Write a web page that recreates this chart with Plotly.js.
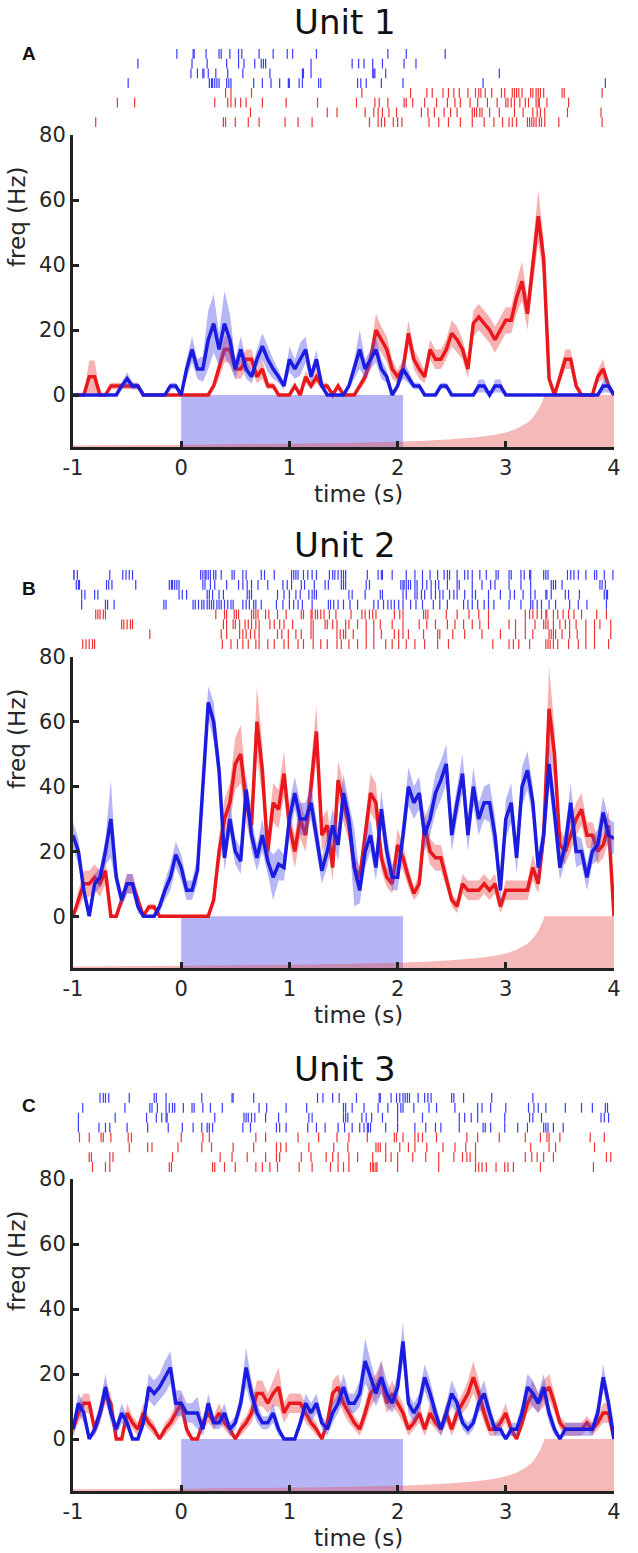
<!DOCTYPE html>
<html>
<head>
<meta charset="utf-8">
<script src="https://cdn.plot.ly/plotly-3.0.1.min.js"></script>
<style>
  body { margin: 0; background: #fff; }
  #plot { width: 638px; height: 1553px; }
</style>
</head>
<body>
<div id="plot"></div>
<script>
// time bins: -1 s to 4 s, 50 ms apart
var binStart = -1, binWidth = 0.05, nBins = 101;

// stimulus window (blue bar) and the pink fill curve under the axis
var stimOn = 0, stimOff = 2.05;
var hazT = [-1, 0, 1, 1.5, 2, 2.25, 2.5, 2.75, 2.9, 3.0, 3.1, 3.2, 3.25, 3.3, 3.33, 3.36, 4];
var hazY = [-15.5, -15.3, -15.0, -14.8, -14.4, -14.1, -13.6, -12.9, -12.2, -11.5, -10.4, -8.5, -6.9, -4.5, -2.5, 0, 0];

// Unit 1 firing rate (Hz) and sem
var p1Red = [0,0,0,5.6,5.6,0,0,2.8,2.8,2.8, 2.8,2.8,2.8,0,0,0,0,0,0,0, 0,0,0,0,0,0,2.8,8,14,14,
  8,8,11,11,5.6,8,2.8,2.8,0,0, 0,2.8,0,5.6,2.8,5.6,2.8,2.8,0,2.8, 0,0,0,2.8,5.6,11,20,17,14,8,
  5.6,8,19,11,8,5.6,14,11,11,14, 19,17,14,8,22,24,22,20,17,20, 23,23,30,35,25,40,55,42,5,0,
  5.6,11,11,2.8,0,0,0,5.6,8,2.8, 0];
var p1RedSem = [0,0,0,5,5,0,0,1,1,1, 1,1,1,0,0,0,0,0,0,0, 0,0,0,0,0,0,1,3,4,4,
  3,3,3,3,2,3,1,1,0,0, 0,1,0,2,1,2,1,1,0,1, 0,0,0,1,2,3,5,4,4,3,
  2,3,4,3,3,2,3,3,3,3, 4,4,3,3,4,4,4,4,4,4, 4,4,5,6,5,6,8,6,2,0,
  2,3,3,1,0,0,0,2,3,1, 0];
var p1Blue = [0,0,0,0,0,0,0,0,0,2.8, 5,2.8,2.8,0,0,0,0,0,2.8,2.8, 0,8,14,8,8,17,22,14,22,17,
  8,14,8,5.6,11,15,11,8,5.6,2.8, 11,8,11,14,5.6,11,2.8,0,0,0, 0,2.8,8,14,8,11,14,8,5.6,0,
  2.8,8,5.6,2.8,2.8,0,0,0,2.8,2.8, 0,0,0,0,0,2.8,2.8,0,2.8,2.8, 0,0,0,0,0,0,0,0,0,0,
  0,0,0,0,0,0,0,0,2.8,2.8, 0];
var p1BlueSem = [0,0,0,0,0,0,0,0,0,1, 2,1,1,0,0,0,0,0,1,1, 0,3,4,3,4,9,9,5,10,8,
  3,4,3,2,3,4,4,3,2,1, 4,3,5,4,2,3,1,0,0,0, 0,1,3,6,3,3,4,3,2,0,
  1,3,2,1,1,0,0,0,1,1, 0,0,0,0,0,2,2,0,2,2, 0,0,0,0,0,0,0,0,0,0,
  0,0,0,0,0,0,0,0,2,2, 0];

// Unit 2
var p2Red = [0,5,10,10,12,10,14,0,0,5, 10,10,5,0,2.8,2.8,0,0,0,0, 0,0,0,0,0,0,5,20,30,35,
  47,50,35,28,60,45,20,35,33,44, 28,20,30,25,40,57,25,28,15,42, 35,28,15,12,25,38,35,18,12,10,
  22,18,12,7,10,28,20,18,18,12, 5,3,10,8,8,8,10,8,10,3, 8,8,8,8,8,15,10,25,64,50,
  22,20,25,30,33,25,25,20,22,28, 0];
var p2RedSem = [0,3,4,4,4,4,4,0,0,2, 3,3,2,0,1,1,0,0,0,0, 0,0,0,0,0,0,2,5,6,6,
  8,9,6,6,11,8,5,6,6,7, 5,5,6,5,7,8,5,5,4,6, 6,5,4,3,5,6,6,4,3,3,
  5,4,3,2,3,5,4,4,4,3, 2,2,3,3,3,3,3,3,3,2, 3,3,3,3,3,4,3,5,13,8,
  5,4,5,5,5,4,4,4,4,5, 0];
var p2Blue = [25,20,8,0,10,12,20,30,12,5, 10,10,3,0,0,0,3,8,12,19, 15,8,8,14,40,66,60,45,18,30,
  20,17,39,25,18,25,17,12,16,15, 30,38,30,30,35,25,14,20,28,22, 38,30,15,8,20,25,15,33,20,12,
  12,25,40,35,38,25,30,38,42,47, 25,35,44,25,40,30,35,35,25,8, 30,35,18,40,45,35,15,25,47,32,
  15,22,35,20,20,12,20,22,32,25, 24];
var p2BlueSem = [4,4,3,0,3,3,4,12,3,2, 3,3,2,0,0,0,2,3,4,4, 4,3,3,4,6,5,6,5,4,5,
  4,4,5,5,4,5,4,7,5,4, 5,5,5,5,5,5,4,5,5,5, 6,5,12,4,5,5,4,6,5,4,
  4,5,6,5,5,5,5,6,6,6, 5,5,6,5,6,5,5,6,6,4, 6,6,5,6,6,5,4,5,7,6,
  4,5,6,5,4,4,4,5,5,5, 5];

// Unit 3
var p3Red = [3,8,11,11,3,8,14,11,0,0, 8,5,3,8,5,3,0,3,5,8, 11,3,0,0,5,8,5,8,5,3,
  0,3,5,8,14,14,11,14,16,8, 11,11,11,8,5,3,0,5,14,16, 11,8,5,3,8,14,16,19,11,14,
  11,8,3,5,8,3,8,5,3,8, 3,8,11,14,19,14,8,3,3,5, 8,3,0,5,11,14,11,14,16,11,
  5,3,3,3,3,5,3,5,8,8, 0];
var p3RedSem = [2,3,3,3,2,3,3,3,0,0, 3,2,2,3,2,2,0,2,2,3, 3,2,0,0,2,3,2,3,2,2,
  0,2,2,3,4,4,3,4,6,3, 3,3,3,3,2,2,0,2,4,4, 3,3,2,2,3,4,4,5,3,4,
  3,3,2,2,3,2,3,2,2,3, 2,3,3,4,5,4,3,2,2,2, 3,2,0,2,3,4,3,4,4,3,
  2,2,2,2,2,2,2,2,3,3, 0];
var p3Blue = [3,11,8,0,3,8,16,8,3,8, 5,0,0,5,16,14,16,19,22,11, 11,8,8,8,3,11,5,5,8,3,
  5,11,22,14,8,5,5,8,3,0, 0,0,5,11,8,11,5,3,8,11, 16,11,11,14,24,19,14,19,14,11,
  16,30,11,8,11,19,14,8,3,8, 14,11,5,3,5,11,14,8,3,3, 0,3,3,8,16,14,11,16,8,3,
  0,3,3,3,3,3,3,8,19,11, 0];
var p3BlueSem = [2,3,3,0,2,3,4,3,2,3, 2,0,0,2,4,4,4,5,5,4, 4,3,3,5,2,3,2,2,3,2,
  2,3,6,4,3,2,2,3,2,0, 0,0,2,3,3,3,2,2,3,3, 4,3,3,4,7,5,4,5,4,3,
  4,6,3,3,3,4,4,3,2,3, 4,3,2,2,2,3,4,3,2,2, 0,2,2,3,4,4,3,4,3,2,
  0,2,2,2,2,2,2,3,4,3, 0];

// spike rasters (s), rows top to bottom: 4 blue trials, then 4 red trials
var p1BlueSpikes = [
  [-0.04,0.11,0.12,0.23,0.35,0.37,0.45,0.53,0.56,0.72,0.85,0.98,1.03,1.25,1.91,2.08,2.44],
  [-0.40,0.10,0.24,0.42,0.53,0.58,0.68,0.74,0.76,0.78,1.20,1.58,1.64,1.69,1.77,1.86,2.06,2.17],
  [0.09,0.15,0.20,0.21,0.25,0.32,0.43,0.57,0.82,1.12,1.13,1.20,1.77,1.78,1.79,1.89,2.94],
  [-0.49,0.26,0.28,0.29,0.31,0.33,0.35,0.42,0.44,0.46,0.67,0.75,0.83,0.91,0.99,1.00,1.09,1.12,1.27,1.29,1.63,1.66,1.71,1.85,2.05,2.79,3.92]
];
var p1RedSpikes = [
  [0.41,0.46,0.65,1.67,2.12,2.27,2.32,2.42,2.47,2.52,2.57,2.65,2.72,2.75,2.77,2.81,2.87,2.96,2.99,3.06,3.08,3.10,3.12,3.15,3.23,3.25,3.28,3.30,3.32,3.35,3.52,3.54,3.89],
  [-0.59,-0.43,0.31,0.43,0.46,0.50,0.55,0.60,0.75,0.97,1.26,1.62,1.79,1.83,1.91,2.06,2.08,2.14,2.25,2.36,2.46,2.53,2.58,2.67,2.74,2.83,2.92,3.00,3.02,3.05,3.08,3.13,3.18,3.21,3.28,3.30,3.31,3.38,3.58],
  [0.64,1.35,1.44,1.70,1.78,1.82,1.86,1.92,1.99,2.22,2.28,2.34,2.43,2.49,2.55,2.69,2.71,2.73,2.76,2.78,2.85,2.94,3.08,3.16,3.25,3.29,3.32,3.36,3.57,3.88],
  [-0.79,0.39,0.41,0.50,0.62,0.72,0.96,1.08,1.21,1.74,1.82,1.85,1.88,1.96,2.00,2.04,2.29,2.38,2.47,2.58,2.69,2.80,2.89,2.97,3.03,3.06,3.10,3.20,3.22,3.24,3.26,3.28,3.31,3.33,3.36,3.49,3.89]
];
var p2BlueSpikes = [
  [-1.00,-0.99,-0.96,-0.66,-0.54,-0.51,-0.48,-0.45,0.18,0.20,0.22,0.23,0.25,0.27,0.30,0.32,0.37,0.47,0.49,0.57,0.60,0.74,0.77,0.86,1.02,1.04,1.06,1.08,1.13,1.17,1.21,1.25,1.37,1.40,1.42,1.45,1.48,1.50,1.52,1.72,1.82,1.85,1.86,1.95,2.08,2.16,2.23,2.30,2.37,2.43,2.46,2.48,2.55,2.62,2.65,2.69,2.76,2.82,2.91,2.93,3.03,3.05,3.14,3.17,3.22,3.23,3.35,3.37,3.39,3.57,3.60,3.63,3.67,3.74,3.82,3.84,3.91,3.99],
  [-0.97,-0.95,-0.94,-0.69,-0.67,-0.64,-0.42,-0.11,-0.09,-0.08,-0.06,-0.04,-0.02,0.20,0.22,0.27,0.31,0.42,0.53,0.57,0.61,0.65,0.71,0.80,0.94,0.98,1.02,1.11,1.14,1.23,1.33,1.36,1.48,1.50,1.52,1.71,1.74,2.03,2.05,2.06,2.08,2.10,2.12,2.16,2.18,2.23,2.27,2.31,2.35,2.38,2.46,2.55,2.57,2.69,2.78,2.86,2.90,3.03,3.14,3.23,3.42,3.44,3.46,3.52,3.87,3.89,3.92],
  [-0.92,-0.89,-0.80,-0.77,-0.02,0.01,0.05,0.24,0.26,0.29,0.35,0.39,0.61,0.63,0.65,0.89,0.95,1.00,1.06,1.10,1.18,1.21,1.23,1.25,1.55,1.58,1.70,1.84,1.86,2.05,2.08,2.16,2.18,2.22,2.25,2.31,2.35,2.39,2.42,2.48,2.52,2.55,2.62,2.69,2.72,2.84,2.95,3.04,3.08,3.16,3.23,3.27,3.37,3.38,3.42,3.55,3.58,3.68,3.91,3.93,3.94],
  [-0.92,-0.70,-0.68,-0.62,-0.16,-0.14,0.11,0.13,0.16,0.19,0.21,0.24,0.26,0.28,0.30,0.33,0.35,0.37,0.40,0.43,0.46,0.48,0.57,0.60,0.63,0.67,0.69,0.74,0.88,0.94,1.00,1.04,1.08,1.12,1.21,1.36,1.38,1.41,1.45,1.50,1.56,1.63,1.78,1.82,1.87,1.91,1.94,1.97,2.01,2.05,2.12,2.17,2.23,2.33,2.39,2.46,2.61,2.65,2.69,2.74,2.80,2.84,2.89,3.03,3.14,3.23,3.25,3.29,3.33,3.40,3.46,3.59,3.67,3.75,3.93]
];
var p2RedSpikes = [
  [-0.79,-0.77,-0.75,-0.72,-0.70,0.32,0.40,0.42,0.49,0.51,0.53,0.65,0.67,0.69,0.71,0.78,0.81,0.89,0.97,1.11,1.13,1.20,1.21,1.24,1.26,1.29,1.32,1.37,1.43,1.57,1.67,1.70,1.74,1.77,1.80,1.97,2.02,2.05,2.24,2.26,2.28,2.45,2.55,2.66,2.75,2.84,3.18,3.22,3.25,3.29,3.33,3.37,3.38,3.44,3.48,3.53,3.58,3.63,3.70,3.84,3.93],
  [-0.55,-0.53,-0.50,-0.47,-0.45,0.39,0.42,0.48,0.50,0.54,0.59,0.62,0.65,0.69,0.72,0.82,0.86,0.91,0.95,1.03,1.20,1.22,1.33,1.35,1.40,1.44,1.52,1.55,1.63,1.71,1.78,1.84,1.95,2.05,2.20,2.27,2.35,2.46,2.53,2.61,2.69,2.76,2.84,3.03,3.09,3.18,3.27,3.35,3.37,3.39,3.44,3.50,3.55,3.59,3.65,3.74,3.82,3.87,3.97],
  [-0.29,0.37,0.42,0.54,0.57,0.60,0.64,0.68,0.72,0.89,0.93,0.99,1.06,1.11,1.20,1.22,1.44,1.47,1.50,1.52,1.59,1.71,1.78,1.85,1.97,2.01,2.05,2.10,2.24,2.37,2.39,2.51,2.62,2.78,2.95,3.09,3.18,3.25,3.40,3.42,3.44,3.46,3.52,3.59,3.66,3.74,3.82,3.97],
  [-0.91,-0.88,-0.85,-0.82,-0.80,0.38,0.46,0.52,0.57,0.62,0.69,0.72,0.80,0.86,0.95,0.99,1.08,1.13,1.22,1.29,1.35,1.44,1.48,1.55,1.63,1.71,1.78,1.89,1.95,2.01,2.08,2.16,2.25,2.37,2.47,2.88,3.03,3.07,3.12,3.22,3.37,3.39,3.41,3.44,3.48,3.58,3.67,3.74,3.82,3.95]
];
var p3BlueSpikes = [
  [-0.75,-0.72,-0.70,-0.67,-0.48,-0.25,-0.23,-0.14,0.19,0.47,0.48,0.67,1.26,1.31,1.40,1.46,1.62,1.83,1.84,1.94,1.99,2.02,2.05,2.07,2.09,2.11,2.19,2.25,2.28,2.31,2.50,2.52,2.61,2.87,3.25],
  [-0.91,-0.52,-0.29,-0.27,-0.22,-0.14,-0.11,-0.08,-0.06,0.02,0.10,0.12,0.20,0.27,0.38,0.72,0.79,0.97,1.16,1.50,1.52,1.58,1.69,1.82,1.91,2.00,2.03,2.05,2.15,2.29,2.36,2.53,2.74,2.78,2.86,3.00,3.21,3.26,3.30,3.37,3.55,3.70,3.80,3.92,3.94],
  [-0.95,-0.61,-0.32,-0.23,-0.18,-0.14,-0.13,0.31,0.58,0.60,0.62,0.65,0.68,0.78,0.90,1.18,1.21,1.50,1.52,1.54,1.67,1.71,1.76,1.86,2.00,2.23,2.57,2.62,2.68,2.74,2.99,3.22,3.25,3.33,3.88,3.91,3.95],
  [-0.95,-0.76,-0.70,-0.66,-0.50,-0.31,-0.12,0.01,0.11,0.19,0.24,0.26,0.29,0.57,0.64,0.88,0.91,0.97,1.17,1.25,1.33,1.45,1.51,1.58,1.65,1.69,1.72,1.73,1.75,1.89,2.00,2.16,2.26,2.35,2.40,2.57,2.79,2.81,2.86,2.99,3.11,3.20,3.35,3.37,3.39,3.44,3.53]
];
var p3RedSpikes = [
  [-0.94,-0.85,-0.74,-0.72,-0.65,-0.49,-0.46,0.00,0.20,0.26,0.69,0.78,1.08,1.27,1.44,1.55,1.72,1.97,1.99,2.05,2.16,2.19,2.23,2.36,2.64,2.74,2.94,3.18,3.32,3.38,3.40,3.50,3.78,3.91],
  [-0.48,-0.31,-0.27,-0.03,0.19,0.28,0.48,0.67,0.88,0.92,0.97,1.18,1.41,1.54,1.80,1.82,1.84,1.89,2.02,2.10,2.16,2.27,2.42,2.53,2.63,2.72,3.23,3.40,3.46,3.82],
  [-0.85,-0.83,-0.66,-0.63,-0.08,0.36,0.47,0.61,0.78,0.88,0.91,1.11,1.20,1.34,1.40,1.45,1.55,1.63,1.77,1.89,1.94,2.00,2.14,2.26,2.38,2.52,2.60,2.64,2.67,2.72,3.18,3.24,3.29,3.35,3.44,3.93,3.97],
  [-0.82,-0.70,-0.66,-0.11,-0.09,0.29,0.31,0.40,0.50,0.69,0.75,0.82,0.89,1.09,1.21,1.38,1.45,1.50,1.55,1.75,1.77,1.78,1.80,1.81,2.00,2.38,2.72,2.75,2.78,2.82,2.91,2.99,3.02,3.07,3.32,3.81]
];

// page geometry in pixels (638 x 1553)
var W = 638, H = 1553;
var yMin = -16, yMax = 80;
var RED = "#e8181c", BLUE = "#1c1ce0";
var FONT = "DejaVu Sans, Verdana, sans-serif";
var TICK_SIZE = 21, LABEL_SIZE = 23;

function px(x) { return x / W; }
function py(y) { return 1 - y / H; }

var t = [];
for (var i = 0; i < nBins; i++) t.push(Math.round((binStart + i * binWidth) * 100) / 100);

var panels = [
  { red: p1Red, redSem: p1RedSem, blue: p1Blue, blueSem: p1BlueSem, redSp: p1RedSpikes, blueSp: p1BlueSpikes,
    top: 135, bottom: 447, rasTop: 49, rasBot: 127, title: "Unit 1", titleY: 22, letter: "A", letterY: 53 },
  { red: p2Red, redSem: p2RedSem, blue: p2Blue, blueSem: p2BlueSem, redSp: p2RedSpikes, blueSp: p2BlueSpikes,
    top: 657, bottom: 968, rasTop: 570, rasBot: 649, title: "Unit 2", titleY: 545, letter: "B", letterY: 588 },
  { red: p3Red, redSem: p3RedSem, blue: p3Blue, blueSem: p3BlueSem, redSp: p3RedSpikes, blueSp: p3BlueSpikes,
    top: 1179, bottom: 1491, rasTop: 1093, rasBot: 1172, title: "Unit 3", titleY: 1069, letter: "C", letterY: 1105 }
];

function band(mean, sem) {
  var hi = [], lo = [];
  for (var i = 0; i < mean.length; i++) {
    hi.push(mean[i] + sem[i]);
    lo.push(Math.max(0, mean[i] - sem[i]));
  }
  return { x: t.concat(t.slice().reverse()), y: hi.concat(lo.reverse()) };
}

var data = [];
var layout = {
  width: W, height: H,
  margin: { l: 0, r: 0, t: 0, b: 0 },
  paper_bgcolor: "white", plot_bgcolor: "rgba(0,0,0,0)",
  showlegend: false,
  font: { family: FONT, color: "#222" },
  annotations: []
};

panels.forEach(function (p, k) {
  var nx = 2 * k + 1, nr = 2 * k + 2;
  var xa = nx === 1 ? "x" : "x" + nx, ya = nx === 1 ? "y" : "y" + nx;
  var xr = "x" + nr, yr = "y" + nr;

  // stimulus bar
  data.push({ x: [stimOn, stimOff, stimOff, stimOn], y: [yMin, yMin, 0, 0], xaxis: xa, yaxis: ya,
    type: "scatter", mode: "none", fill: "toself", fillcolor: "rgba(100,100,235,0.48)", hoverinfo: "skip" });
  // pink fill curve
  data.push({ x: hazT.concat([4, -1]), y: hazY.concat([yMin, yMin]), xaxis: xa, yaxis: ya,
    type: "scatter", mode: "none", fill: "toself", fillcolor: "rgba(232,70,70,0.38)", hoverinfo: "skip" });

  var rb = band(p.red, p.redSem), bb = band(p.blue, p.blueSem);
  data.push({ x: rb.x, y: rb.y, xaxis: xa, yaxis: ya, type: "scatter", mode: "none",
    fill: "toself", fillcolor: "rgba(235,70,70,0.42)", hoverinfo: "skip" });
  data.push({ x: t, y: p.red, xaxis: xa, yaxis: ya, type: "scatter", mode: "lines",
    line: { color: RED, width: 3.5 } });
  data.push({ x: bb.x, y: bb.y, xaxis: xa, yaxis: ya, type: "scatter", mode: "none",
    fill: "toself", fillcolor: "rgba(80,80,235,0.42)", hoverinfo: "skip" });
  data.push({ x: t, y: p.blue, xaxis: xa, yaxis: ya, type: "scatter", mode: "lines",
    line: { color: BLUE, width: 3.5 } });

  // raster rows
  var rows = p.blueSp.concat(p.redSp);
  rows.forEach(function (sp, r) {
    data.push({ x: sp, y: sp.map(function () { return r + 1; }), xaxis: xr, yaxis: yr,
      type: "scatter", mode: "markers", hoverinfo: "skip",
      marker: { symbol: "line-ns", size: 7, line: { width: 1.2, color: r < 4 ? "#3a3aff" : "#f03434" } } });
  });

  var dom = [px(73), px(614)];
  layout["xaxis" + (nx === 1 ? "" : nx)] = {
    domain: dom, anchor: ya, range: [-1, 4], tickvals: [-1, 0, 1, 2, 3, 4],
    ticktext: ["-1", "0", "1", "2", "3", "4"],
    ticks: "inside", ticklen: 6, tickwidth: 3, tickcolor: "#222",
    showline: true, linewidth: 3, linecolor: "#222", showgrid: false, zeroline: false,
    tickfont: { size: TICK_SIZE, family: FONT, color: "#262626" }, ticklabelstandoff: 0
  };
  layout["yaxis" + (nx === 1 ? "" : nx)] = {
    domain: [py(p.bottom), py(p.top)], anchor: xa, range: [yMin, yMax], tickvals: [0, 20, 40, 60, 80],
    ticks: "inside", ticklen: 6, tickwidth: 3, tickcolor: "#222",
    showline: true, linewidth: 3, linecolor: "#222", showgrid: false, zeroline: false,
    tickfont: { size: TICK_SIZE, family: FONT, color: "#262626" }
  };
  layout["xaxis" + nr] = { domain: dom, anchor: yr, range: [-1, 4], visible: false };
  layout["yaxis" + nr] = { domain: [py(p.rasBot), py(p.rasTop)], anchor: xr, range: [8.5, 0.5], visible: false };

  layout.annotations.push(
    { text: p.title, xref: "paper", yref: "paper", x: px(345), y: py(p.titleY), showarrow: false,
      xanchor: "center", yanchor: "middle", font: { size: 34, family: FONT, color: "#111" } },
    { text: "<b>" + p.letter + "</b>", xref: "paper", yref: "paper", x: px(29), y: py(p.letterY), showarrow: false,
      xanchor: "center", yanchor: "middle", font: { size: 19, family: "Liberation Sans, Arial, sans-serif", color: "#111" } },
    { text: "freq (Hz)", xref: "paper", yref: "paper", x: px(17), y: py(p.top + 82), showarrow: false,
      textangle: -90, xanchor: "center", yanchor: "middle", font: { size: LABEL_SIZE, family: FONT, color: "#262626" } },
    { text: "time (s)", xref: "paper", yref: "paper", x: px(358), y: py(p.bottom + 47), showarrow: false,
      xanchor: "center", yanchor: "middle", font: { size: LABEL_SIZE, family: FONT, color: "#262626" } }
  );
});

Plotly.newPlot("plot", data, layout, { staticPlot: true });
</script>
</body>
</html>
